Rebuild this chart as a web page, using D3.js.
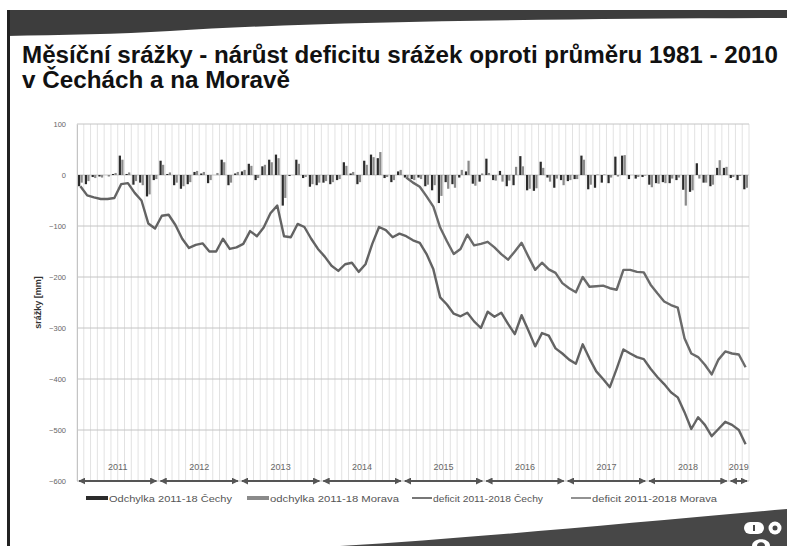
<!DOCTYPE html>
<html>
<head>
<meta charset="utf-8">
<script src="https://cdn.jsdelivr.net/npm/d3@7"></script>
<style>
  body { margin: 0; background: #fff; }
  svg { display: block; }
  text { font-family: "Liberation Sans", Arial, sans-serif; }
</style>
</head>
<body>
<svg id="chart" width="787" height="546"></svg>
<script>
// ---- data -------------------------------------------------------------
const years = ["2011", "2012", "2013", "2014", "2015", "2016", "2017", "2018", "2019"];
const lastMonth = "2019-03";
const yTicks = [100, 0, -100, -200, -300, -400, -500, -600];

// monthly deviation from the 1981-2010 normal [mm]
const odchylkaCechy = [
  -22, -18, -4, -3, 0, 2, 38, 2, -19, -15, -42, -10,
  28, 2, -20, -27, -18, 6, 3, -16, 0, 30, -20, 3,
  7, 22, -10, 17, 30, 40, -60, -2, 30, -6, -23, -20,
  -15, -18, -10, 25, 3, -18, 28, 40, 33, -6, -14, 7,
  -5, -8, -5, -22, -30, -55, -14, -18, -5, 7, -17, -13,
  32, -10, 8, -22, -20, 37, -30, -31, 26, -5, -25, -10,
  -12, -8, 38, -28, -25, -15, -16, 36, 38, -8, -7, -4,
  -19, -16, -14, -16, -10, -29, -33, 23, -15, -22, 14, 14,
  -6, -10, -28
];
const odchylkaMorava = [
  -15, -12, -6, -5, -3, 4, 30, 5, -12, -20, -38, -8,
  20, 5, -15, -22, -14, 8, 6, -10, 4, 25, -15, 6,
  10, 18, -6, 20, 25, 33, -45, 0, 22, -4, -18, -15,
  -12, -14, -8, 18, 6, -14, 20, 35, 45, -4, -10, 10,
  -5, -10, -8, -19, -20, -41, -27, -25, 10, 28, -21, 3,
  4, -11, -13, -11, 16, 17, -27, -26, 14, -13, -7, -20,
  -10, -8, 30, -19, 1, 1, -5, -3, 39, 0, -4, -1,
  -24, -17, -16, -7, -5, -60, -30, -7, -15, -19, 29, 16,
  -4, -2, -25
];
// accumulated deficit [mm]
const deficitCechy = [
  -22, -40, -44, -47, -47, -45, -18, -16, -35, -50, -95, -105,
  -80, -78, -98, -125, -143, -137, -134, -150, -150, -125, -145, -142,
  -135, -110, -120, -103, -75, -60, -120, -122, -96, -102, -125, -145,
  -160, -178, -188, -175, -172, -190, -175, -135, -102, -108, -122, -115,
  -120, -128, -133, -155, -185, -240, -254, -272, -277, -270, -287, -300,
  -268, -278, -270, -292, -312, -275, -305, -336, -310, -315, -340, -350,
  -362, -370, -332, -360, -385, -400, -416, -380, -342, -350, -357, -361,
  -380, -396, -410, -426, -436, -465, -498, -475, -490, -512, -498, -484,
  -490, -500, -528
];
// this series begins in January 2015
const deficitMoravaStart = "2015-01";
const deficitMorava = [
  -5, -15, -23, -42, -62, -103, -130, -155, -145, -117, -138, -135,
  -131, -142, -155, -166, -150, -133, -160, -186, -172, -185, -192, -212,
  -222, -230, -200, -219, -218, -217, -222, -225, -186, -186, -190, -191,
  -215, -232, -248, -255, -260, -320, -350, -357, -372, -391, -362, -346,
  -350, -352, -377
];

const legendItems = [
  { label: "Odchylka 2011-18 Čechy", kind: "bar", color: "#2b2b2b", x: 86, len: 123 },
  { label: "odchylka 2011-18 Morava", kind: "bar", color: "#8a8a8a", x: 247, len: 129 },
  { label: "deficit 2011-2018 Čechy", kind: "line", color: "#555", x: 412, len: 110 },
  { label: "deficit 2011-2018 Morava", kind: "line", color: "#777", x: 571, len: 125 }
];

// ---- scales -----------------------------------------------------------
const months = years.flatMap(y => d3.range(1, 13).map(m => `${y}-${String(m).padStart(2, "0")}`))
  .filter(m => m <= lastMonth);
const moravaOffset = months.indexOf(deficitMoravaStart);

const plot = { left: 77, right: 749, top: 124, bottom: 481 };
const x = d3.scaleBand().domain(months).range([plot.left, plot.right]).padding(0);
const inner = d3.scaleBand().domain(["c", "m"]).range([0.7, x.bandwidth() - 0.7]).padding(0.12);
const y = d3.scaleLinear().domain([-600, 100]).range([plot.bottom, plot.top]);

const svg = d3.select("#chart");

// ---- slide frame ------------------------------------------------------
svg.append("rect").attr("width", 787).attr("height", 546).attr("fill", "#fff");
svg.append("path")
  .attr("d", "M7,10 L787,10 L787,18 C560,19 330,21 170,31 C120,34 60,35 7,36 Z")
  .attr("fill", "#3d3d3d");
svg.append("rect").attr("x", 7).attr("y", 10).attr("width", 3).attr("height", 536).attr("fill", "#222");
svg.append("path")
  .attr("d", "M340,546 C470,538 620,524 787,509 L787,546 Z")
  .attr("fill", "#474747");

// logo
const logo = svg.append("g").attr("fill", "#fff");
logo.append("rect").attr("x", 744).attr("y", 522).attr("width", 20).attr("height", 12).attr("rx", 6);
logo.append("rect").attr("x", 753).attr("y", 525).attr("width", 2).attr("height", 6).attr("fill", "#474747");
logo.append("circle").attr("cx", 775).attr("cy", 528).attr("r", 6.5);
logo.append("circle").attr("cx", 775).attr("cy", 528).attr("r", 2.5).attr("fill", "#474747");
logo.append("path").attr("d", "M752,546 C752,537 770,537 770,546 Z");
logo.append("path").attr("d", "M757,546 C757,541 765,541 765,546 Z").attr("fill", "#474747");

// ---- title ------------------------------------------------------------
svg.append("text").attr("x", 22).attr("y", 63)
  .attr("font-size", 23).attr("font-weight", "bold").attr("fill", "#111")
  .attr("textLength", 756).attr("lengthAdjust", "spacingAndGlyphs")
  .text("Měsíční srážky - nárůst deficitu srážek oproti průměru 1981 - 2010");
svg.append("text").attr("x", 22).attr("y", 88)
  .attr("font-size", 23).attr("font-weight", "bold").attr("fill", "#111")
  .attr("textLength", 268).attr("lengthAdjust", "spacingAndGlyphs")
  .text("v Čechách a na Moravě");

// ---- grid -------------------------------------------------------------
const grid = svg.append("g");
grid.selectAll("line.v").data(months.concat(["end"])).join("line")
  .attr("class", "v")
  .attr("x1", d => d === "end" ? plot.right : x(d))
  .attr("x2", d => d === "end" ? plot.right : x(d))
  .attr("y1", plot.top).attr("y2", plot.bottom)
  .attr("stroke", "#e2e2e2").attr("stroke-width", 1);
grid.selectAll("line.h").data(yTicks).join("line")
  .attr("class", "h")
  .attr("x1", plot.left).attr("x2", plot.right)
  .attr("y1", d => y(d)).attr("y2", d => y(d))
  .attr("stroke", "#c4c4c4").attr("stroke-width", 1);

// y axis
const yAxis = svg.append("g").attr("transform", `translate(${plot.left},0)`)
  .call(d3.axisLeft(y).tickValues(yTicks).tickSize(0).tickPadding(11));
yAxis.select(".domain").attr("stroke", "#c4c4c4");
yAxis.selectAll("text").attr("font-size", 7.5).attr("fill", "#666")
  .attr("font-family", "\"Liberation Sans\", Arial, sans-serif");

svg.append("text")
  .attr("transform", `translate(41,${y(-250)}) rotate(-90)`)
  .attr("text-anchor", "middle").attr("font-size", 9).attr("font-weight", "bold").attr("fill", "#333")
  .text("srážky [mm]");

// ---- bars -------------------------------------------------------------
const barData = months.flatMap((m, i) => [
  { m, key: "c", v: odchylkaCechy[i] },
  { m, key: "m", v: odchylkaMorava[i] }
]);
svg.append("g").selectAll("rect").data(barData).join("rect")
  .attr("x", d => x(d.m) + inner(d.key))
  .attr("width", inner.bandwidth())
  .attr("y", d => y(Math.max(0, d.v)))
  .attr("height", d => Math.abs(y(d.v) - y(0)))
  .attr("fill", d => d.key === "c" ? "#2b2b2b" : "#8a8a8a");

// ---- cumulative lines -------------------------------------------------
const cx = m => x(m) + x.bandwidth() / 2;
const line = d3.line().x(d => cx(d.m)).y(d => y(d.v));
svg.append("path")
  .datum(months.map((m, i) => ({ m, v: deficitCechy[i] })))
  .attr("d", line).attr("fill", "none").attr("stroke", "#636363").attr("stroke-width", 2.4)
  .attr("stroke-linejoin", "round");
svg.append("path")
  .datum(deficitMorava.map((v, i) => ({ m: months[moravaOffset + i], v })))
  .attr("d", line).attr("fill", "none").attr("stroke", "#6a6a6a").attr("stroke-width", 2.4)
  .attr("stroke-linejoin", "round");

// ---- year spans with double arrows ------------------------------------
const defs = svg.append("defs");
defs.append("marker").attr("id", "ah").attr("viewBox", "0 0 10 10")
  .attr("refX", 9).attr("refY", 5).attr("markerWidth", 7).attr("markerHeight", 7)
  .attr("markerUnits", "userSpaceOnUse").attr("orient", "auto-start-reverse")
  .append("path").attr("d", "M0,0 L10,5 L0,10 Z").attr("fill", "#555");

const spans = years.map(yr => {
  const ms = months.filter(m => m.startsWith(yr));
  return { yr, x0: x(ms[0]), x1: x(ms[ms.length - 1]) + x.bandwidth() };
});
const yearG = svg.append("g");
yearG.selectAll("line").data(spans).join("line")
  .attr("x1", d => d.x0 + 2).attr("x2", d => d.x1 - 2)
  .attr("y1", y(-600)).attr("y2", y(-600))
  .attr("stroke", "#555").attr("stroke-width", 2)
  .attr("marker-start", "url(#ah)").attr("marker-end", "url(#ah)");
yearG.selectAll("text").data(spans).join("text")
  .attr("x", d => (d.x0 + d.x1) / 2).attr("y", 470)
  .attr("text-anchor", "middle").attr("font-size", 9).attr("fill", "#666")
  .text(d => d.yr);

// ---- legend -----------------------------------------------------------
const lg = svg.append("g").attr("transform", "translate(0,498)");
const items = lg.selectAll("g").data(legendItems).join("g")
  .attr("transform", d => `translate(${d.x},0)`);
items.append("line").attr("x1", 0).attr("x2", d => d.kind === "bar" ? 22 : 20)
  .attr("y1", 0).attr("y2", 0)
  .attr("stroke", d => d.color).attr("stroke-width", d => d.kind === "bar" ? 4 : 1.6);
items.append("text").attr("x", d => d.kind === "bar" ? 23 : 21).attr("y", 3.5)
  .attr("font-size", 9.5).attr("fill", "#555")
  .attr("textLength", d => d.len).attr("lengthAdjust", "spacingAndGlyphs")
  .text(d => d.label);
</script>
</body>
</html>
